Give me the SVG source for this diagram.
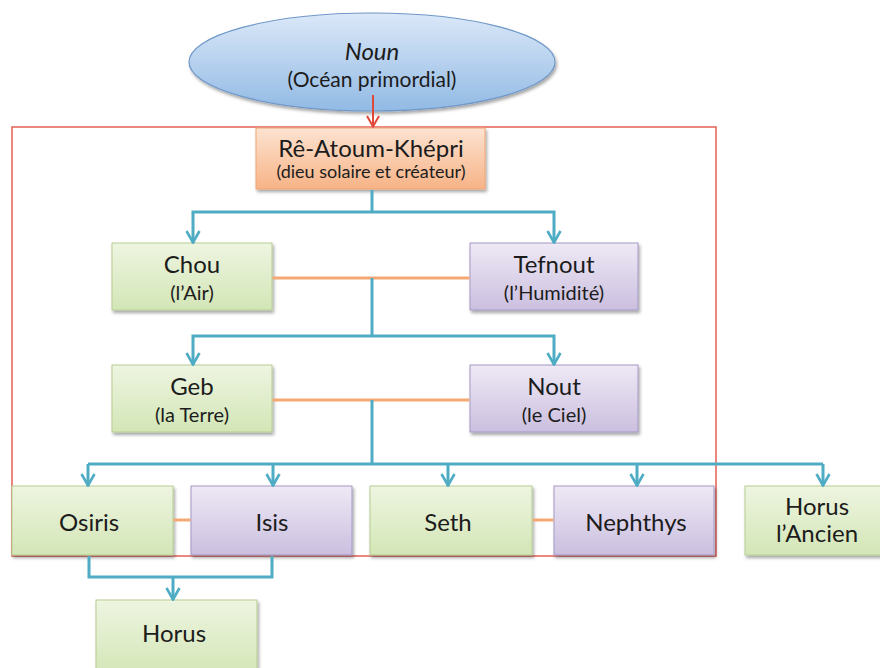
<svg xmlns="http://www.w3.org/2000/svg" width="880" height="668" viewBox="0 0 880 668">
  <defs>
    <linearGradient id="gGreen" x1="0" y1="0" x2="0" y2="1">
      <stop offset="0" stop-color="#eef5e1"/>
      <stop offset="1" stop-color="#d3e6b6"/>
    </linearGradient>
    <linearGradient id="gPurple" x1="0" y1="0" x2="0" y2="1">
      <stop offset="0" stop-color="#eee9f5"/>
      <stop offset="1" stop-color="#cbbfdf"/>
    </linearGradient>
    <linearGradient id="gOrange" x1="0" y1="0" x2="0" y2="1">
      <stop offset="0" stop-color="#fde3d1"/>
      <stop offset="1" stop-color="#f7b386"/>
    </linearGradient>
    <linearGradient id="gBlue" x1="0" y1="0" x2="0" y2="1">
      <stop offset="0" stop-color="#dbe8f8"/>
      <stop offset="1" stop-color="#92bae4"/>
    </linearGradient>
    <filter id="shadow" x="-10%" y="-10%" width="130%" height="140%">
      <feDropShadow dx="1.5" dy="2.5" stdDeviation="1.8" flood-color="#000" flood-opacity="0.35"/>
    </filter>
    <marker id="arrTeal" viewBox="0 0 16 16" refX="15" refY="8" markerWidth="16" markerHeight="16" markerUnits="userSpaceOnUse" orient="auto">
      <path d="M3,1.5 L14.5,8 L3,14.5" fill="none" stroke="#4eacc4" stroke-width="2.6"/>
    </marker>
    <marker id="arrRed" viewBox="0 0 16 16" refX="15" refY="8" markerWidth="16" markerHeight="16" markerUnits="userSpaceOnUse" orient="auto">
      <path d="M4,2 L14.5,8 L4,14" fill="none" stroke="#e2483a" stroke-width="2"/>
    </marker>
  </defs>
  <style>
    .green { fill: url(#gGreen); stroke: #b6cd92; stroke-width: 1; filter: url(#shadow); }
    .purple { fill: url(#gPurple); stroke: #a597c4; stroke-width: 1; filter: url(#shadow); }
    .orange { fill: url(#gOrange); stroke: #f0a575; stroke-width: 1; filter: url(#shadow); }
    .blue { fill: url(#gBlue); stroke: #6f98c9; stroke-width: 1.2; filter: url(#shadow); }
    .frame { fill: none; stroke: #e46a60; stroke-width: 1.6; }
    .teal { fill: none; stroke: #4eacc4; stroke-width: 3; }
    .tealA { fill: none; stroke: #4eacc4; stroke-width: 3; marker-end: url(#arrTeal); }
    .pair { fill: none; stroke: #f4a874; stroke-width: 3; }
    .red { fill: none; stroke: #e2483a; stroke-width: 2; marker-end: url(#arrRed); }
    text { font-family: Lato, "Liberation Sans", sans-serif; fill: #1c1c1c; text-anchor: middle; dominant-baseline: central; }
    .t { font-size: 24px; }
    .s { font-size: 20px; }
    .o { font-size: 21px; }
    .xs { font-size: 18px; }
  </style>

  <rect class="frame" x="12" y="127" width="704" height="429"/>

  <g id="noun">
    <ellipse class="blue" cx="372" cy="62" rx="183" ry="49"/>
    <text x="372" y="50" class="t" font-style="italic">Noun</text>
    <text x="372" y="78" class="o">(Océan primordial)</text>
  </g>

  <g id="re">
    <rect class="orange" x="256" y="128" width="229" height="61"/>
    <text x="371" y="147" class="t">Rê-Atoum-Khépri</text>
    <text x="371" y="171" class="xs">(dieu solaire et créateur)</text>
  </g>

  <g id="chou">
    <rect class="green" x="112" y="243" width="160" height="67"/>
    <text x="192" y="263" class="t">Chou</text>
    <text x="192" y="292" class="s">(l’Air)</text>
  </g>

  <g id="tefnout">
    <rect class="purple" x="470" y="243" width="168" height="67"/>
    <text x="554" y="263" class="t">Tefnout</text>
    <text x="554" y="292" class="s">(l’Humidité)</text>
  </g>

  <g id="geb">
    <rect class="green" x="112" y="365" width="160" height="67"/>
    <text x="192" y="385" class="t">Geb</text>
    <text x="192" y="414" class="s">(la Terre)</text>
  </g>

  <g id="nout">
    <rect class="purple" x="470" y="365" width="168" height="67"/>
    <text x="554" y="385" class="t">Nout</text>
    <text x="554" y="414" class="s">(le Ciel)</text>
  </g>

  <g id="osiris">
    <rect class="green" x="12" y="486" width="161" height="69"/>
    <text x="89" y="521" class="t">Osiris</text>
  </g>

  <g id="isis">
    <rect class="purple" x="191" y="486" width="161" height="69"/>
    <text x="272" y="521" class="t">Isis</text>
  </g>

  <g id="seth">
    <rect class="green" x="370" y="486" width="162" height="69"/>
    <text x="448" y="521" class="t">Seth</text>
  </g>

  <g id="nephthys">
    <rect class="purple" x="554" y="486" width="160" height="69"/>
    <text x="636" y="521" class="t">Nephthys</text>
  </g>

  <g id="horus-ancien">
    <rect class="green" x="745" y="486" width="142" height="69"/>
    <text x="817" y="505" class="t">Horus</text>
    <text x="817" y="532" class="t">l’Ancien</text>
  </g>

  <g id="horus">
    <rect class="green" x="96" y="600" width="161" height="75"/>
    <text x="174" y="632" class="t">Horus</text>
  </g>

  <g id="connectors">
    <path class="red" d="M373,95 V127"/>
    <path class="teal" d="M372,190 V212"/>
    <path class="tealA" d="M372,212 H193 V243"/>
    <path class="tealA" d="M372,212 H554 V243"/>
    <path class="pair" d="M272.5,278 H469.5"/>
    <path class="teal" d="M372,278 V336"/>
    <path class="tealA" d="M372,336 H193 V365"/>
    <path class="tealA" d="M372,336 H554 V365"/>
    <path class="pair" d="M272.5,400 H469.5"/>
    <path class="teal" d="M372,400 V464"/>
    <path class="teal" d="M88,464 H823"/>
    <path class="tealA" d="M88,464 V486"/>
    <path class="tealA" d="M273,464 V486"/>
    <path class="tealA" d="M448,464 V486"/>
    <path class="tealA" d="M637,464 V486"/>
    <path class="tealA" d="M823,464 V486"/>
    <path class="pair" d="M173.5,520 H190.5"/>
    <path class="pair" d="M532.5,520 H553.5"/>
    <path class="teal" d="M89,556 V577 H272 V556"/>
    <path class="tealA" d="M173,577 V600"/>
  </g>
</svg>
